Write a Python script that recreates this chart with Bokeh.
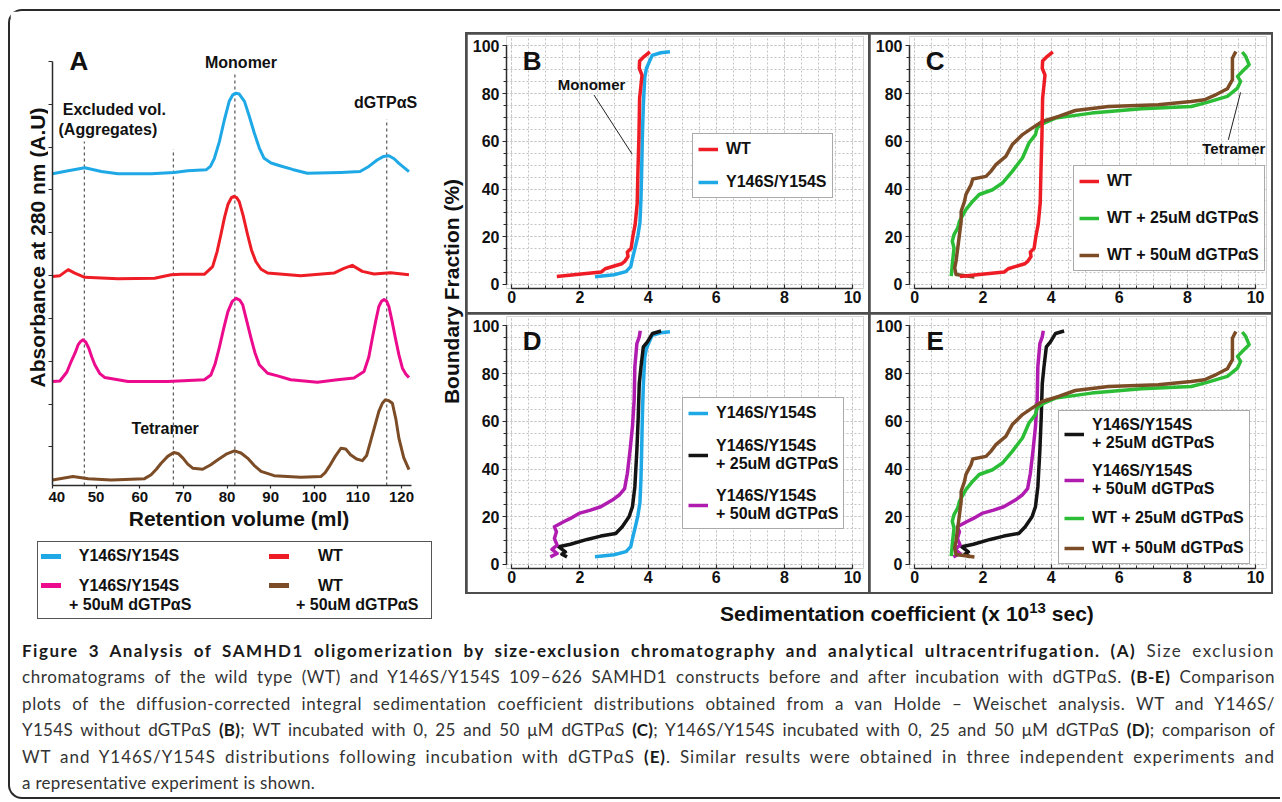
import math
from bokeh.plotting import figure
from bokeh.models import (Range1d, Label, Legend, LegendItem, SingleIntervalTicker, FixedTicker,
                          Div, Spacer)
from bokeh.layouts import row, column
from bokeh.embed import file_html
from bokeh.resources import INLINE
from bokeh.core.properties import value

FONT = "Liberation Sans"

# ===================== DATA =====================
# ---- Panel A: size-exclusion chromatograms (retention volume, ml ; stacked absorbance, A.U.)
a_xticks_interval = 10
a_yticks = [1, 2, 3, 4, 5, 6, 7, 8, 9, 10]

y146_ml = [40, 43.6, 47.4, 51.2, 55, 62.6, 67.9, 71, 75.2, 76.2, 77.1, 78.25, 79.4, 80.5, 81.3, 82.06,
           82.8, 84.0, 85.1, 86.25, 87.4, 88.5, 90.1, 92.3, 95, 98.4, 106.1, 110.5, 112.5, 114.4,
           115.8, 117.1, 118.3, 119.4, 121.7]
y146_au = [7.38, 7.45, 7.52, 7.43, 7.38, 7.38, 7.41, 7.45, 7.47, 7.55, 7.74, 8.13, 8.64, 9.07, 9.22, 9.26,
           9.24, 9.07, 8.72, 8.33, 7.98, 7.74, 7.63, 7.56, 7.48, 7.39, 7.41, 7.43, 7.55, 7.7,
           7.78, 7.8, 7.73, 7.62, 7.43]

wt_ml = [40, 41.7, 43.6, 45.1, 47.4, 55, 63.4, 67.2, 69.5, 74.8, 76.7, 77.7, 78.6, 79.4, 80.2, 81.0,
         81.6, 82.2, 82.8, 83.7, 84.7, 85.6, 86.6, 87.8, 89.3, 96.9, 104.5, 106.8, 108.7, 111, 113.7,
         117.5, 121.7]
wt_au = [4.98, 5.0, 5.14, 5.06, 4.96, 4.93, 4.94, 5.02, 5.03, 5.03, 5.21, 5.55, 5.96, 6.35, 6.66, 6.82,
         6.85, 6.82, 6.73, 6.4, 5.96, 5.6, 5.33, 5.15, 5.06, 5.0, 5.06, 5.17, 5.24, 5.1, 5.04,
         5.07, 5.02]

y146_50_ml = [40, 41.7, 43.3, 44.3, 45.2, 45.9, 46.5, 47.0, 47.6, 48.3, 49.0, 49.7, 50.8, 52, 57.3, 66.4,
              74.8, 76.3, 77.3, 78.2, 79.2, 80.2, 81.2, 82.1, 82.9, 83.6, 84.5, 85.5, 86.4, 87.4, 89.3,
              91.6, 94.6, 100.7, 105.3, 109.1, 111.4, 112.5, 113.3, 114.1, 114.8, 115.4, 116.0, 116.6,
              117.1, 117.8, 118.6, 119.4, 120.2, 121.0, 121.7]
y146_50_au = [2.53, 2.54, 2.75, 3.0, 3.2, 3.39, 3.47, 3.5, 3.45, 3.31, 3.1, 2.92, 2.72, 2.62, 2.53, 2.53,
              2.57, 2.68, 2.95, 3.31, 3.75, 4.16, 4.4, 4.47, 4.43, 4.32, 3.95, 3.54, 3.2, 2.92, 2.72,
              2.66, 2.57, 2.51, 2.57, 2.61, 2.76, 3.1, 3.54, 3.95, 4.28, 4.4, 4.44, 4.4,
              4.28, 3.95, 3.54, 3.15, 2.84, 2.7, 2.62]

wt_50_ml = [40, 44.7, 48.2, 53.5, 61.1, 62.6, 63.8, 64.9, 66.4, 67.8, 68.9, 69.9, 71.0, 72.2, 74.4, 76.2,
            77.9, 79.8, 81.7, 83.2, 84.7, 86.2, 87.8, 90.8, 96.9, 101.5, 102.5, 103.4, 104.8, 106.1,
            107.2, 108.3, 109.7, 111, 112.0, 112.9, 113.9, 114.8, 115.6, 116.3, 117.1, 117.9, 118.7,
            119.4, 120.5, 121.7]
wt_50_au = [0.23, 0.31, 0.26, 0.23, 0.26, 0.35, 0.48, 0.62, 0.78, 0.87, 0.84, 0.74, 0.6, 0.5, 0.48, 0.58,
            0.7, 0.83, 0.91, 0.86, 0.74, 0.57, 0.43, 0.33, 0.29, 0.31, 0.4, 0.54, 0.78, 0.97,
            0.95, 0.82, 0.72, 0.68, 0.8, 1.13, 1.5, 1.83, 2.02, 2.1, 2.08, 2.02, 1.65,
            1.2, 0.75, 0.47]

# reference volumes (dotted guides) and their top ends
guide_ml = [47.3, 67.7, 81.8, 116.6]
guide_top = [8.13, 7.95, 9.70, 8.65]
guide_bottom = [0.1, 0.1, 0.1, 0.1]

# ---- Panels B-E: van Holde-Weischet integral distributions (s x 10^13 sec ; boundary fraction %)
wt_s = [1.32, 2.62, 2.74, 3.23, 3.32, 3.41, 3.39, 3.5, 3.55, 3.62, 3.68, 3.7, 3.73, 3.75, 3.79, 3.82, 3.74,
        3.75, 3.88, 4.05]
wt_f = [3.3, 5.2, 6.6, 8.7, 9.8, 11.7, 13.6, 15.1, 20.0, 25.2, 34.2, 46.8, 62.0, 78.0, 83.5, 87.7, 90.6,
        93.6, 95.5, 97.5]

y146_s = [2.44, 3.0, 3.35, 3.49, 3.54, 3.62, 3.7, 3.76, 3.79, 3.81, 3.83, 3.86, 3.9, 3.95, 4.04, 4.12,
          4.37, 4.64]
y146_f = [3.2, 4.1, 5.4, 7.5, 10.8, 15.5, 20.5, 26.0, 36.0, 47.6, 61.6, 75.5, 86.6, 90.5, 93.5, 96.0,
          97.1, 97.5]

wt25_s = [1.07, 1.10, 1.15, 1.10, 1.15, 1.26, 1.31, 1.50, 1.70, 1.89, 2.28, 2.57, 2.86, 3.16, 3.35, 3.54,
          3.59, 3.79, 4.13, 5.19, 6.65, 8.11, 8.5, 9.17, 9.47, 9.56, 9.47, 9.66, 9.81, 9.71, 9.61]
wt25_f = [3.5, 8.4, 15.3, 18.1, 20.9, 23.7, 26.5, 31.4, 34.9, 37.7, 39.7, 42.5, 47.4, 53.0, 59.3, 62.8,
          65.6, 67.6, 69.7, 71.8, 73.6, 74.6, 76.0, 78.8, 82.3, 85.1, 87.2, 90.0, 92.1, 95.5, 97.4]

wt50_s = [1.75, 1.21, 1.17, 1.21, 1.26, 1.31, 1.36, 1.36, 1.46, 1.50, 1.65, 1.70, 2.09, 2.23, 2.38, 2.67,
          2.86, 3.16, 3.45, 3.74, 4.22, 4.71, 5.68, 7.14, 8.11, 8.5, 8.79, 9.17, 9.32, 9.32, 9.32, 9.42]
wt50_f = [3.1, 4.2, 7.0, 9.8, 15.3, 20.9, 26.5, 30.7, 34.9, 37.7, 41.8, 44.2, 45.3, 47.4, 50.2, 53.7,
          58.6, 62.8, 65.6, 68.3, 70.4, 72.9, 74.6, 75.3, 76.7, 77.4, 79.2, 82.0, 85.8, 90.7, 94.8, 97.6]

y25_s = [1.62, 1.47, 1.57, 1.38, 1.72, 2.21, 2.61, 3.05, 3.24, 3.44, 3.54, 3.61, 3.67, 3.71, 3.74, 3.79,
         3.86, 3.98, 4.13, 4.38]
y25_f = [3.2, 4.3, 5.3, 7.4, 8.5, 10.5, 11.9, 13.0, 15.8, 20.0, 24.2, 32.5, 47.9, 61.9, 75.8, 82.8,
         91.2, 93.3, 96.8, 97.8]

y50_s = [1.13, 1.33, 1.18, 1.33, 1.25, 1.31, 1.25, 1.52, 1.72, 1.97, 2.31, 2.61, 2.95, 3.15, 3.31, 3.39,
         3.47, 3.54, 3.59, 3.61, 3.67, 3.74, 3.77]
y50_f = [3.2, 4.6, 6.3, 8.1, 10.9, 13.7, 15.8, 17.9, 19.3, 21.4, 22.8, 24.2, 27.0, 29.1, 31.8, 38.1,
         47.9, 57.7, 68.9, 82.8, 92.6, 95.4, 97.9]

# ===================== STYLE =====================
C_BLUE = "#1ea9e6"
C_RED = "#ee1c25"
C_PINK = "#ec0b8d"
C_BROWN = "#7c4c26"
C_GREEN = "#2bbd35"
C_BLACK = "#141414"
C_PURPLE = "#b01cb0"
AXC = "#2b2b2b"
TXT = "#111111"


def add_text(p, x, y, text, size, units="data", align="center", baseline="middle", angle=0.0):
    p.add_layout(Label(x=x, y=y, x_units=units, y_units=units, text=text, text_font=FONT,
                       text_font_size=size, text_font_style="bold", text_color=TXT,
                       text_align=align, text_baseline=baseline, angle=angle))


def style_axis(ax, size):
    ax.axis_line_color = AXC
    ax.axis_line_width = 1.5
    ax.major_tick_line_color = AXC
    ax.minor_tick_line_color = AXC
    ax.major_tick_line_width = 1.2
    ax.minor_tick_line_width = 1.0
    ax.major_label_text_font = FONT
    ax.major_label_text_font_style = "bold"
    ax.major_label_text_font_size = size
    ax.major_label_text_color = TXT


def style_legend(leg, spacing):
    leg.label_text_font = FONT
    leg.label_text_font_style = "bold"
    leg.label_text_font_size = "16px"
    leg.label_text_color = TXT
    leg.label_text_line_height = 1.15
    leg.glyph_width = 20
    leg.glyph_height = 20
    leg.label_standoff = 8
    leg.padding = 5
    leg.margin = 0
    leg.spacing = spacing
    leg.border_line_color = "#555555"
    leg.border_line_width = 1.2
    leg.background_fill_alpha = 1.0


# ===================== PANEL A =====================
pYA = figure(width=38, height=526, x_range=Range1d(0, 1), y_range=Range1d(0, 1),
             x_axis_type=None, y_axis_type=None, output_backend="svg", toolbar_location=None,
             min_border=0)
pYA.outline_line_color = None
# (this narrow plot's frame is aligned with the chromatogram frame: 484 px baseline)
add_text(pYA, 27, 238, "Absorbance at 280 nm (A.U)", "21px", units="screen", angle=math.pi / 2)

pA = figure(width=390, height=526, x_range=Range1d(40, 125.49), y_range=Range1d(0.1, 10.327),
            output_backend="svg", toolbar_location=None,
            min_border_left=3, min_border_right=13, min_border_top=36, min_border_bottom=52)
pA.outline_line_color = None
pA.xgrid.visible = False
pA.ygrid.visible = False
xa = pA.xaxis[0]
ya = pA.yaxis[0]
style_axis(xa, "15px")
style_axis(ya, "15px")
xa.ticker = SingleIntervalTicker(interval=a_xticks_interval, num_minor_ticks=0)
xa.bounds = (40, 122.3)
xa.major_tick_out = 3
xa.major_tick_in = 0
xa.major_label_standoff = 3
xa.axis_label = "Retention volume (ml)"
xa.axis_label_text_font = FONT
xa.axis_label_text_font_style = "bold"
xa.axis_label_text_font_size = "21px"
xa.axis_label_text_color = TXT
xa.axis_label_standoff = 2
ya.ticker = FixedTicker(ticks=[], minor_ticks=a_yticks)
ya.bounds = (0.1, 10)
ya.minor_tick_out = 4
ya.minor_tick_in = 0
ya.minor_tick_line_width = 1.2
ya.major_label_standoff = 0

pA.segment(x0=guide_ml, y0=guide_bottom, x1=guide_ml, y1=guide_top,
           line_color="#555555", line_width=1.2, line_dash="3 3")
for xs, ys, c in [(y146_ml, y146_au, C_BLUE), (wt_ml, wt_au, C_RED),
                  (y146_50_ml, y146_50_au, C_PINK), (wt_50_ml, wt_50_au, C_BROWN)]:
    pA.line(xs, ys, line_color=c, line_width=3, line_join="round")

add_text(pA, 46.06, 10.02, "A", "26px")
add_text(pA, 83.2, 9.98, "Monomer", "16px")
add_text(pA, 54.17, 8.88, "Excluded vol.", "16px")
add_text(pA, 52.69, 8.41, "(Aggregates)", "16px")
add_text(pA, 116.34, 9.04, "dGTPαS", "16px")
add_text(pA, 65.83, 1.43, "Tetramer", "16px")

# boxed legend under the chromatograms (two columns)
legA_entries = [
    # (swatch colour, swatch left, swatch top, [(text, left, top, width or None)])
    (C_BLUE, 3, 12, [("Y146S/Y154S", 31, 4, 120)]),
    (C_RED, 231, 12, [("WT", 280, 4, None)]),
    (C_PINK, 3, 41, [("Y146S/Y154S", 31, 34, 120), ("+ 50uM dGTPαS", 31, 53, 120)]),
    (C_BROWN, 231, 41, [("WT", 280, 34, None), ("+ 50uM dGTPαS", 258, 53, None)]),
]
legA_html = ('<div style="position:relative;margin:4px 0 0 27px;width:395px;height:78px;'
             'box-sizing:border-box;border:1.3px solid #555;background:#fff;'
             'font-family:\'Liberation Sans\',Arial,sans-serif;font-weight:bold;font-size:16px;'
             'color:#111;">')
for col, sl, st, texts in legA_entries:
    legA_html += (f'<div style="position:absolute;left:{sl}px;top:{st}px;width:20px;height:5px;'
                  f'background:{col};"></div>')
    for t, tl, tt, tw in texts:
        wcss = f'width:{tw}px;text-align:center;' if tw else ''
        legA_html += (f'<div style="position:absolute;left:{tl}px;top:{tt}px;{wcss}'
                      f'line-height:20px;white-space:nowrap;">{t}</div>')
legA_html += '</div>'
legA = Div(text=legA_html, width=428, height=90, margin=0)


# ===================== PANELS B-E =====================
def make_panel():
    p = figure(width=401, height=278, x_range=Range1d(-0.156, 10.32), y_range=Range1d(-1.68, 103.9),
               output_backend="svg", toolbar_location=None,
               min_border_left=39, min_border_right=5, min_border_top=2, min_border_bottom=24)
    p.outline_line_color = None
    x_ax = p.xaxis[0]
    y_ax = p.yaxis[0]
    style_axis(x_ax, "16px")
    style_axis(y_ax, "16px")
    x_ax.bounds = (0, 10)
    y_ax.bounds = (0, 100)
    x_ax.ticker = SingleIntervalTicker(interval=2, num_minor_ticks=4)
    y_ax.ticker = SingleIntervalTicker(interval=20, num_minor_ticks=4)
    x_ax.major_tick_in = 4
    x_ax.major_tick_out = 0
    x_ax.minor_tick_in = 3
    x_ax.minor_tick_out = 0
    x_ax.major_label_standoff = 2
    y_ax.major_tick_in = 0
    y_ax.major_tick_out = 4
    y_ax.minor_tick_in = 0
    y_ax.minor_tick_out = 3
    y_ax.major_label_standoff = 3
    for g in (p.xgrid[0], p.ygrid[0]):
        g.grid_line_color = "#c4c4c4"
        g.grid_line_dash = "2 2"
        g.grid_line_width = 1
        g.minor_grid_line_color = "#c4c4c4"
        g.minor_grid_line_dash = "2 2"
        g.minor_grid_line_width = 1
    return p


LW = 3.5
letter_pos = (0.6, 93.5)

# B
pB = make_panel()
bB = pB.line(y146_s, y146_f, line_color=C_BLUE, line_width=LW, line_join="round")
bR = pB.line(wt_s, wt_f, line_color=C_RED, line_width=LW, line_join="round")
pB.segment(x0=[2.41], y0=[79.4], x1=[3.53], y1=[54.6], line_color="#222222", line_width=1)
add_text(pB, 2.34, 83.9, "Monomer", "15px")
add_text(pB, letter_pos[0], letter_pos[1], "B", "26px")
legB = Legend(items=[LegendItem(label=value("WT"), renderers=[bR]),
                     LegendItem(label=value("Y146S/Y154S"), renderers=[bB])], location=(186, 90))
style_legend(legB, 13)
pB.add_layout(legB)

# C
pC = make_panel()
cG = pC.line(wt25_s, wt25_f, line_color=C_GREEN, line_width=LW, line_join="round")
cBr = pC.line(wt50_s, wt50_f, line_color=C_BROWN, line_width=LW, line_join="round")
cR = pC.line(wt_s, wt_f, line_color=C_RED, line_width=LW, line_join="round")
pC.segment(x0=[9.2], y0=[60.6], x1=[9.56], y1=[80.5], line_color="#222222", line_width=1)
add_text(pC, 9.36, 57.1, "Tetramer", "15px")
add_text(pC, letter_pos[0], letter_pos[1], "C", "26px")
legC = Legend(items=[LegendItem(label=value("WT"), renderers=[cR]),
                     LegendItem(label=value("WT + 25uM dGTPαS"), renderers=[cG]),
                     LegendItem(label=value("WT + 50uM dGTPαS"), renderers=[cBr])], location=(164, 17))
style_legend(legC, 17)
pC.add_layout(legC)

# D
pD = make_panel()
dB = pD.line(y146_s, y146_f, line_color=C_BLUE, line_width=LW, line_join="round")
dK = pD.line(y25_s, y25_f, line_color=C_BLACK, line_width=LW, line_join="round")
dP = pD.line(y50_s, y50_f, line_color=C_PURPLE, line_width=LW, line_join="round")
add_text(pD, letter_pos[0], letter_pos[1], "D", "26px")
legD = Legend(items=[LegendItem(label=value("Y146S/Y154S"), renderers=[dB]),
                     LegendItem(label=value("Y146S/Y154S\n+ 25uM dGTPαS"), renderers=[dK]),
                     LegendItem(label=value("Y146S/Y154S\n+ 50uM dGTPαS"), renderers=[dP])],
              location=(176, 39))
style_legend(legD, 14)
pD.add_layout(legD)

# E
pE = make_panel()
eK = pE.line(y25_s, y25_f, line_color=C_BLACK, line_width=LW, line_join="round")
eP = pE.line(y50_s, y50_f, line_color=C_PURPLE, line_width=LW, line_join="round")
eG = pE.line(wt25_s, wt25_f, line_color=C_GREEN, line_width=LW, line_join="round")
eBr = pE.line(wt50_s, wt50_f, line_color=C_BROWN, line_width=LW, line_join="round")
add_text(pE, letter_pos[0], letter_pos[1], "E", "26px")
legE = Legend(items=[LegendItem(label=value("Y146S/Y154S\n+ 25uM dGTPαS"), renderers=[eK]),
                     LegendItem(label=value("Y146S/Y154S\n+ 50uM dGTPαS"), renderers=[eP]),
                     LegendItem(label=value("WT + 25uM dGTPαS"), renderers=[eG]),
                     LegendItem(label=value("WT + 50uM dGTPαS"), renderers=[eBr])], location=(149, 4))
style_legend(legE, 10)
pE.add_layout(legE)

# shared y title
pY = figure(width=27, height=616, x_range=Range1d(0, 1), y_range=Range1d(0, 1),
            x_axis_type=None, y_axis_type=None, output_backend="svg", toolbar_location=None,
            min_border=0)
pY.outline_line_color = None
add_text(pY, 13, 336, "Boundary Fraction (%)", "21px", units="screen", angle=math.pi / 2)

grid = column(row(pB, pC, spacing=2), row(pD, pE, spacing=2), spacing=2,
              styles={"background-color": "#4d4d4d", "padding": "2px"})

xtitle = Div(text=('<div style="font-family:\'Liberation Sans\',Arial,sans-serif;font-weight:bold;'
                   'font-size:21px;line-height:24px;color:#111;padding:8px 0 0 255px;white-space:nowrap;">'
                   'Sedimentation coefficient (x 10<span style="font-size:15px;position:relative;top:-8px;">13</span> sec)'
                   '</div>'),
             width=809, height=33, margin=0)

col_right = column(Spacer(width=809, height=21), grid, xtitle)
left_block = column(row(pYA, pA), legA)
row1 = row(left_block, pY, col_right)

cap_lines = [
    '<b>Figure 3 Analysis of SAMHD1 oligomerization by size-exclusion chromatography and analytical '
    'ultracentrifugation. (A)</b> Size exclusion',
    'chromatograms of the wild type (WT) and Y146S/Y154S 109–626 SAMHD1 constructs before and after '
    'incubation with dGTPαS. <b>(B-E)</b> Comparison',
    'plots of the diffusion-corrected integral sedimentation coefficient distributions obtained from a '
    'van Holde – Weischet analysis. WT and Y146S/',
    'Y154S without dGTPαS <b>(B)</b>; WT incubated with 0, 25 and 50 μM dGTPαS <b>(C)</b>; Y146S/Y154S '
    'incubated with 0, 25 and 50 μM dGTPαS <b>(D)</b>; comparison of',
    'WT and Y146S/Y154S distributions following incubation with dGTPαS <b>(E)</b>. Similar results were '
    'obtained in three independent experiments and',
    'a representative experiment is shown.',
]
cap_spacing = [1.5, 0.6, 0.6, 0.3, 0.95, 0.3]   # letter spacing (px) per caption line
cap_html = ('<div style="display:block;box-sizing:content-box;width:1253px;margin-left:12px;'
            'padding-top:11px;font-family:Lato,sans-serif;font-size:17px;'
            'line-height:26.4px;color:#333;">')
for i, ln in enumerate(cap_lines):
    ls = cap_spacing[i]
    if i < len(cap_lines) - 1:
        cap_html += (f'<div style="display:block;width:1253px;text-align:justify;letter-spacing:{ls}px;'
                     'text-align-last:justify;white-space:nowrap;">' + ln + '</div>')
    else:
        cap_html += (f'<div style="display:block;width:1253px;white-space:nowrap;letter-spacing:{ls}px;">'
                     + ln + '</div>')
cap_html += '</div>'
cap_html = cap_html.replace('<b>', '<b style="color:#1a1a1a;">')
caption = Div(text=cap_html, width=1270, height=170, margin=0)

root = column(row1, caption, margin=(9, 0, 0, 8),
              styles={"border": "2px solid #2a2a2a", "border-right": "none",
                      "border-radius": "14px 0 0 14px"})

open("out.html", "w").write(file_html(root, INLINE, title="Figure 3"))
